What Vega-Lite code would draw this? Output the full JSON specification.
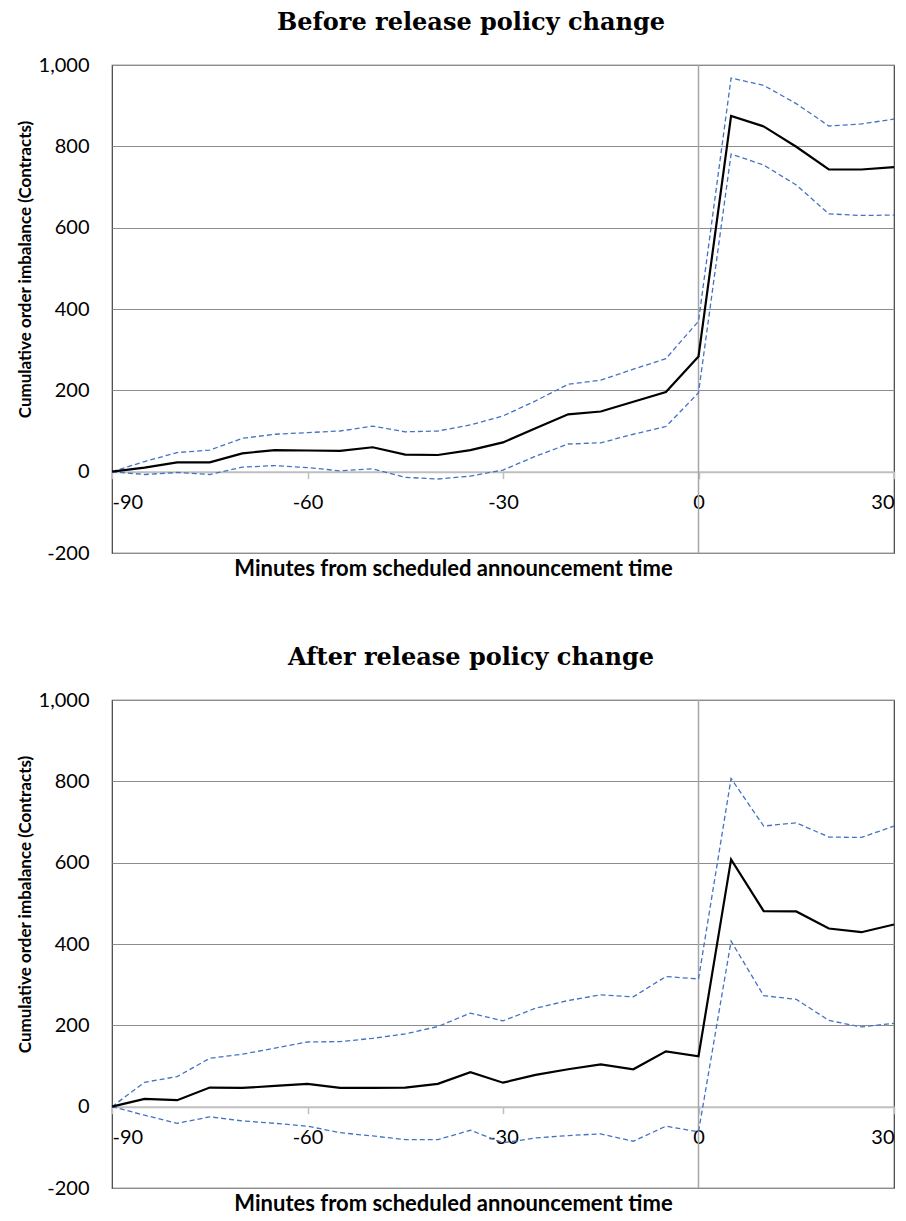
{
  "$schema": "https://vega.github.io/schema/vega-lite/v6.json",
  "padding": {"left": 15, "top": 10, "right": 0, "bottom": 0},
  "background": "white",
  "datasets": {
    "before": [
      {"t": -90, "mean": 0, "hi": 0, "lo": 0},
      {"t": -85, "mean": 10, "hi": 25, "lo": -7},
      {"t": -80, "mean": 23, "hi": 47, "lo": -2},
      {"t": -75, "mean": 23, "hi": 53, "lo": -7},
      {"t": -70, "mean": 45, "hi": 82, "lo": 11},
      {"t": -65, "mean": 53, "hi": 92, "lo": 15},
      {"t": -60, "mean": 52, "hi": 96, "lo": 10},
      {"t": -55, "mean": 51, "hi": 100, "lo": 2},
      {"t": -50, "mean": 60, "hi": 112, "lo": 7},
      {"t": -45, "mean": 42, "hi": 98, "lo": -14},
      {"t": -40, "mean": 41, "hi": 100, "lo": -18},
      {"t": -35, "mean": 53, "hi": 115, "lo": -11},
      {"t": -30, "mean": 72, "hi": 137, "lo": 4},
      {"t": -25, "mean": 107, "hi": 174, "lo": 38},
      {"t": -20, "mean": 141, "hi": 215, "lo": 68},
      {"t": -15, "mean": 148, "hi": 225, "lo": 71},
      {"t": -10, "mean": 172, "hi": 252, "lo": 92},
      {"t": -5, "mean": 196, "hi": 278, "lo": 111},
      {"t": 0, "mean": 283, "hi": 370, "lo": 194},
      {"t": 5, "mean": 875, "hi": 968, "lo": 781},
      {"t": 10, "mean": 849, "hi": 950, "lo": 754},
      {"t": 15, "mean": 799, "hi": 905, "lo": 705},
      {"t": 20, "mean": 743, "hi": 850, "lo": 634},
      {"t": 25, "mean": 743, "hi": 855, "lo": 630},
      {"t": 30, "mean": 749, "hi": 867, "lo": 631}
    ],
    "after": [
      {"t": -90, "mean": 0, "hi": 0, "lo": 0},
      {"t": -85, "mean": 19, "hi": 60, "lo": -21},
      {"t": -80, "mean": 16, "hi": 74, "lo": -41},
      {"t": -75, "mean": 47, "hi": 119, "lo": -25},
      {"t": -70, "mean": 46, "hi": 129, "lo": -35},
      {"t": -65, "mean": 51, "hi": 144, "lo": -41},
      {"t": -60, "mean": 56, "hi": 159, "lo": -48},
      {"t": -55, "mean": 46, "hi": 160, "lo": -64},
      {"t": -50, "mean": 46, "hi": 168, "lo": -72},
      {"t": -45, "mean": 47, "hi": 179, "lo": -81},
      {"t": -40, "mean": 56, "hi": 197, "lo": -81},
      {"t": -35, "mean": 85, "hi": 230, "lo": -58},
      {"t": -30, "mean": 59, "hi": 211, "lo": -89},
      {"t": -25, "mean": 78, "hi": 242, "lo": -77},
      {"t": -20, "mean": 92, "hi": 261, "lo": -71},
      {"t": -15, "mean": 104, "hi": 275, "lo": -67},
      {"t": -10, "mean": 92, "hi": 270, "lo": -85},
      {"t": -5, "mean": 136, "hi": 320, "lo": -48},
      {"t": 0, "mean": 124, "hi": 314, "lo": -62},
      {"t": 5, "mean": 608, "hi": 807, "lo": 407},
      {"t": 10, "mean": 481, "hi": 690, "lo": 273},
      {"t": 15, "mean": 480, "hi": 698, "lo": 264},
      {"t": 20, "mean": 438, "hi": 663, "lo": 212},
      {"t": 25, "mean": 429, "hi": 662, "lo": 196},
      {"t": 30, "mean": 448, "hi": 690, "lo": 205}
    ],
    "vline": [{"t": 0}]
  },
  "spacing": 64,
  "vconcat": [
    {
      "title": {"text": "Before release policy change"},
      "width": 782,
      "height": 488,
      "layer": [
        {
          "data": {"name": "vline"},
          "mark": {"type": "rule", "color": "#a6a6a6", "strokeWidth": 1.5},
          "encoding": {
            "x": {"field": "t", "type": "quantitative", "scale": {"domain": [-90, 30], "nice": false},
              "axis": {"values": [-90, -60, -30, 0, 30], "offset": -81.33, "title": "Minutes from scheduled announcement time", "titlePadding": 46, "titleX": 341, "grid": false, "domainColor": "#bfbfbf", "domainWidth": 2, "tickColor": "#bfbfbf", "tickSize": 7, "tickWidth": 1.5, "labelPadding": 14, "labelExpr": "replace(format(datum.value, 'd'), '−', '-')"}}
          }
        },
        {
          "data": {"name": "before"},
          "mark": {"type": "line", "color": "#4472c4", "strokeWidth": 1.3, "strokeDash": [5, 3]},
          "encoding": {
            "x": {"field": "t", "type": "quantitative"},
            "y": {"field": "hi", "type": "quantitative", "scale": {"domain": [-200, 1000], "nice": false},
              "axis": {"values": [-200, 0, 200, 400, 600, 800, 1000], "labelExpr": "replace(format(datum.value, ',d'), '−', '-')", "title": "Cumulative order imbalance (Contracts)", "titleY": 204}}
          }
        },
        {
          "data": {"name": "before"},
          "mark": {"type": "line", "color": "#4472c4", "strokeWidth": 1.3, "strokeDash": [5, 3]},
          "encoding": {
            "x": {"field": "t", "type": "quantitative"},
            "y": {"field": "lo", "type": "quantitative"}
          }
        },
        {
          "data": {"name": "before"},
          "mark": {"type": "line", "color": "#000000", "strokeWidth": 2.2},
          "encoding": {
            "x": {"field": "t", "type": "quantitative"},
            "y": {"field": "mean", "type": "quantitative"}
          }
        }
      ]
    },
    {
      "title": {"text": "After release policy change"},
      "width": 782,
      "height": 488,
      "layer": [
        {
          "data": {"name": "vline"},
          "mark": {"type": "rule", "color": "#a6a6a6", "strokeWidth": 1.5},
          "encoding": {
            "x": {"field": "t", "type": "quantitative", "scale": {"domain": [-90, 30], "nice": false},
              "axis": {"values": [-90, -60, -30, 0, 30], "offset": -81.33, "title": "Minutes from scheduled announcement time", "titlePadding": 46, "titleX": 341, "grid": false, "domainColor": "#bfbfbf", "domainWidth": 2, "tickColor": "#bfbfbf", "tickSize": 7, "tickWidth": 1.5, "labelPadding": 14, "labelExpr": "replace(format(datum.value, 'd'), '−', '-')"}}
          }
        },
        {
          "data": {"name": "after"},
          "mark": {"type": "line", "color": "#4472c4", "strokeWidth": 1.3, "strokeDash": [5, 3]},
          "encoding": {
            "x": {"field": "t", "type": "quantitative"},
            "y": {"field": "hi", "type": "quantitative", "scale": {"domain": [-200, 1000], "nice": false},
              "axis": {"values": [-200, 0, 200, 400, 600, 800, 1000], "labelExpr": "replace(format(datum.value, ',d'), '−', '-')", "title": "Cumulative order imbalance (Contracts)", "titleY": 204}}
          }
        },
        {
          "data": {"name": "after"},
          "mark": {"type": "line", "color": "#4472c4", "strokeWidth": 1.3, "strokeDash": [5, 3]},
          "encoding": {
            "x": {"field": "t", "type": "quantitative"},
            "y": {"field": "lo", "type": "quantitative"}
          }
        },
        {
          "data": {"name": "after"},
          "mark": {"type": "line", "color": "#000000", "strokeWidth": 2.2},
          "encoding": {
            "x": {"field": "t", "type": "quantitative"},
            "y": {"field": "mean", "type": "quantitative"}
          }
        }
      ]
    }
  ],
  "config": {
    "view": {"stroke": "#404040", "strokeWidth": 1.2},
    "axis": {"labelFont": "Lato", "labelFontSize": 20, "labelColor": "#000000", "titleFont": "Lato", "titleFontWeight": "bold", "titleColor": "#000000"},
    "axisX": {"titleFontSize": 22},
    "axisY": {"ticks": false, "domain": false, "gridColor": "#8c8c8c", "gridWidth": 1, "labelPadding": 23, "titlePadding": 4, "titleFontSize": 17},
    "title": {"font": "DejaVu Serif", "fontWeight": "bold", "fontSize": 24, "color": "#000000", "offset": 20, "anchor": "middle", "dx": -32}
  }
}
